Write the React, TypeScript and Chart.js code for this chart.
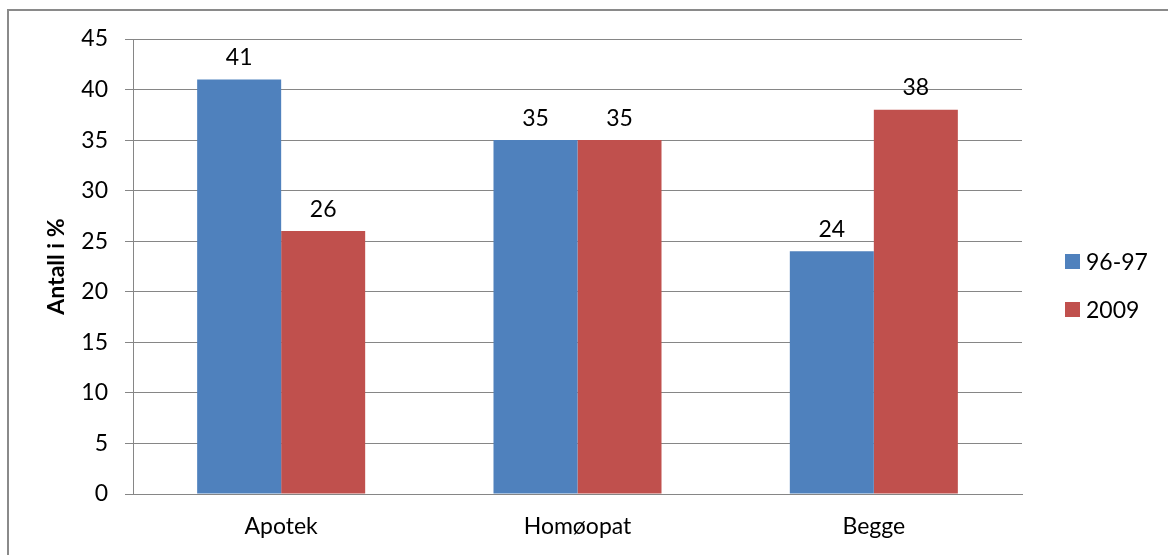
import React, { useEffect, useRef } from "react";
import { Chart, registerables } from "chart.js";

Chart.register(...registerables);

// Chart data
const categories = ["Apotek", "Homøopat", "Begge"];
const series1996 = [41, 35, 24];
const series2009 = [26, 35, 38];
const seriesLabels = ["96-97", "2009"];
const yTicks = [0, 5, 10, 15, 20, 25, 30, 35, 40, 45];

const W = 1168;
const H = 555;
const FONT = "Lato, 'Open Sans', sans-serif";
const FS = 23;
const GRID = "#868686";

// Writes each bar's value just above it
const valueLabels = {
  id: "valueLabels",
  afterDatasetsDraw(chart: any) {
    const { ctx } = chart;
    ctx.save();
    ctx.font = `${FS}px ${FONT}`;
    ctx.fillStyle = "#000";
    ctx.textAlign = "center";
    ctx.textBaseline = "middle";
    chart.data.datasets.forEach((ds: any, i: number) => {
      const meta = chart.getDatasetMeta(i);
      meta.data.forEach((bar: any, j: number) => {
        ctx.fillText(String(ds.data[j]), bar.x, bar.y - 22);
      });
    });
    ctx.restore();
  },
};

// Vertical legend to the right of the plot
const sideLegend = {
  id: "sideLegend",
  afterDraw(chart: any) {
    const { ctx, chartArea } = chart;
    const x = chartArea.right + 43;
    const gap = 48;
    const n = chart.data.datasets.length;
    const mid = (chartArea.top + chartArea.bottom) / 2 + 19;
    ctx.save();
    ctx.font = `${FS}px ${FONT}`;
    ctx.textBaseline = "middle";
    ctx.textAlign = "left";
    chart.data.datasets.forEach((ds: any, i: number) => {
      const cy = mid + (i - (n - 1) / 2) * gap;
      ctx.fillStyle = ds.backgroundColor;
      ctx.fillRect(x, cy - 7.5, 15, 15);
      ctx.fillStyle = "#000";
      ctx.fillText(ds.label, x + 21, cy + 1);
    });
    ctx.restore();
  },
};

export default function App() {
  const canvasRef = useRef<HTMLCanvasElement | null>(null);

  useEffect(() => {
    if (!canvasRef.current) return;
    const chart = new Chart(canvasRef.current, {
      type: "bar",
      data: {
        labels: categories,
        datasets: [
          {
            label: seriesLabels[0],
            data: series1996,
            backgroundColor: "#4F81BD",
            categoryPercentage: 0.567,
            barPercentage: 1,
          },
          {
            label: seriesLabels[1],
            data: series2009,
            backgroundColor: "#C0504D",
            categoryPercentage: 0.567,
            barPercentage: 1,
          },
        ],
      },
      options: {
        responsive: false,
        animation: false,
        layout: { padding: { top: 39, right: 146, left: 0, bottom: 0 } },
        plugins: {
          legend: { display: false },
          tooltip: { enabled: false },
        },
        scales: {
          x: {
            grid: { display: false, drawTicks: false },
            border: { display: true, color: GRID, width: 1 },
            ticks: {
              color: "#000",
              font: { family: FONT, size: FS },
              padding: 19,
            },
            afterFit(scale: any) {
              scale.height = 61;
            },
          },
          y: {
            min: 0,
            max: 45,
            afterBuildTicks(scale: any) {
              scale.ticks = yTicks.map((v) => ({ value: v }));
            },
            grid: { color: GRID, lineWidth: 1, tickLength: 8 },
            border: { display: true, color: GRID, width: 1 },
            ticks: {
              color: "#000",
              font: { family: FONT, size: FS },
              padding: 17,
            },
            title: {
              display: true,
              text: "Antall i %",
              color: "#000",
              font: { family: FONT, size: FS, weight: "bold" },
              padding: { top: 43, bottom: 0 },
            },
            afterFit(scale: any) {
              scale.width = 133;
            },
          },
        },
      },
      plugins: [valueLabels, sideLegend],
    });
    return () => chart.destroy();
  }, []);

  return (
    <div
      style={{
        position: "absolute",
        left: 0,
        top: 0,
        width: W,
        height: H,
        overflow: "hidden",
        background: "#fff",
      }}
    >
      <div
        style={{
          position: "absolute",
          left: 7,
          top: 9,
          width: W + 40,
          height: H + 40,
          border: "2px solid #8a8a8a",
          boxSizing: "border-box",
        }}
      />
      <canvas
        ref={canvasRef}
        width={W}
        height={H}
        style={{ position: "absolute", left: 0, top: 0, width: W, height: H }}
      />
    </div>
  );
}
